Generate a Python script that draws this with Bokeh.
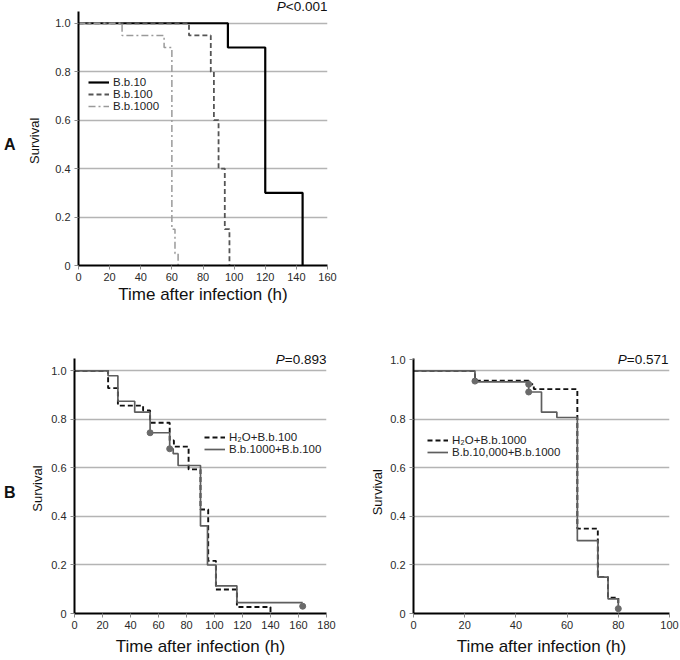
from bokeh.plotting import figure
from bokeh.models import (Range1d, FixedTicker, Label, Legend, LegendItem,
                          LinearAxis, CustomJSTickFormatter)
from bokeh.layouts import column, row
from bokeh.embed import file_html
from bokeh.resources import INLINE

FONT = "Liberation Sans"

# ---------------- data ----------------
y_ticks = [0, 0.2, 0.4, 0.6, 0.8, 1.0]
grid_ticks = [0.2, 0.4, 0.6, 0.8, 1.0]

# Panel A
a_x_ticks = [0, 20, 40, 60, 80, 100, 120, 140, 160]
a_bb10_t = [0, 96, 120, 144]
a_bb10_s = [1.0, 0.9, 0.3, 0.0]
a_bb100_t = [0, 71, 85, 87, 90, 94, 97]
a_bb100_s = [1.0, 0.95, 0.8, 0.6, 0.4, 0.15, 0.0]
a_bb1000_t = [0, 28, 55, 60, 62, 64]
a_bb1000_s = [1.0, 0.95, 0.9, 0.15, 0.05, 0.0]
a_labels = ["B.b.10", "B.b.100", "B.b.1000"]
a_p = ("P", "<0.001")

# Panel B left
b1_x_ticks = [0, 20, 40, 60, 80, 100, 120, 140, 160, 180]
b1_h2o_t = [0, 24, 31, 49, 54, 68, 71, 81.5, 90, 95.5, 101, 116, 140]
b1_h2o_s = [1.0, 0.929, 0.857, 0.837, 0.786, 0.713, 0.688, 0.594, 0.429, 0.217, 0.099, 0.027, 0.0]
b1_bb_t = [0, 24, 31, 43, 54, 68, 70.5, 74, 90, 95, 101, 116, 163]
b1_bb_s = [1.0, 0.98, 0.875, 0.83, 0.745, 0.679, 0.659, 0.61, 0.361, 0.2, 0.114, 0.045, 0.045]
b1_cens_t = [54, 68, 163]
b1_cens_s = [0.745, 0.679, 0.03]
b1_labels = ["H\u2082O+B.b.100", "B.b.1000+B.b.100"]
b1_p = ("P", "=0.893")

# Panel B right
b2_x_ticks = [0, 20, 40, 60, 80, 100]
b2_h2o_t = [0, 24, 45, 47, 64, 72, 76, 80]
b2_h2o_s = [1.0, 0.96, 0.945, 0.925, 0.35, 0.15, 0.065, 0.02]
b2_bb_t = [0, 24, 45, 50, 56, 64, 72, 76, 80]
b2_bb_s = [1.0, 0.955, 0.913, 0.83, 0.808, 0.30, 0.15, 0.06, 0.02]
b2_cens_t = [24, 45, 45, 80]
b2_cens_s = [0.958, 0.945, 0.913, 0.02]
b2_labels = ["H\u2082O+B.b.1000", "B.b.10,000+B.b.1000"]
b2_p = ("P", "=0.571")
b2_y_ticks = [0, 0.2, 0.4, 0.6, 0.8, 1.045]   # the "1.0" label sits above its line

AXIS_TOP = 1.05
P_SIZE = 13.5


def make_fig(width, height, bl, br, bt, bb, xend, yend, xticks, yticks, xlab_standoff):
    p = figure(width=width, height=height, output_backend="svg", toolbar_location=None,
               x_range=Range1d(0, xend), y_range=Range1d(0, yend),
               min_border_left=bl, min_border_right=br, min_border_top=bt,
               min_border_bottom=bb)
    p.outline_line_color = None
    p.background_fill_color = "white"
    p.xgrid.visible = False
    p.ygrid.ticker = FixedTicker(ticks=grid_ticks)
    p.ygrid.grid_line_color = "#b4b4b4"
    p.ygrid.grid_line_width = 1.6
    p.xaxis.ticker = FixedTicker(ticks=xticks)
    p.yaxis.ticker = FixedTicker(ticks=yticks)
    p.yaxis.bounds = (0, AXIS_TOP)
    p.yaxis.formatter = CustomJSTickFormatter(
        code="return tick == 0 ? '0' : (tick > 1 ? '1.0' : tick.toFixed(1));")
    for ax in (p.xaxis[0], p.yaxis[0]):
        ax.axis_line_color = "black"
        ax.axis_line_width = 2
        ax.major_tick_in = 0
        ax.major_tick_out = 4
        ax.major_tick_line_color = "#8a8a8a"
        ax.minor_tick_line_color = None
        ax.major_label_text_font = FONT
        ax.major_label_text_font_size = "11px"
        ax.major_label_text_color = "#2a2a2a"
        ax.axis_label_text_font = FONT
        ax.axis_label_text_font_style = "normal"
        ax.axis_label_text_color = "#111111"
    p.xaxis.major_label_standoff = 3
    p.yaxis.major_label_standoff = 4
    p.xaxis.axis_label = "Time after infection (h)"
    p.xaxis.axis_label_text_font_size = "17px"
    p.xaxis.axis_label_standoff = xlab_standoff
    return p


def text_axis(p, text, ypos, size, style, standoff, vertical):
    ax = LinearAxis(ticker=FixedTicker(ticks=[ypos]),
                    formatter=CustomJSTickFormatter(code="return '%s';" % text),
                    axis_line_color=None, major_tick_line_color=None,
                    minor_tick_line_color=None, major_tick_in=0, major_tick_out=0,
                    major_label_standoff=standoff, major_label_text_font=FONT,
                    major_label_text_font_size=size, major_label_text_font_style=style,
                    major_label_text_color="#111111")
    if vertical:
        ax.major_label_orientation = "vertical"
    p.add_layout(ax, "left")


def add_p(p, xend, yv, ptxt, right_off):
    total = (0.667 + 0.584 + 0.556 * 4 + 0.278) * P_SIZE
    p.add_layout(Label(x=xend, y=yv, text=ptxt[1], text_align="right",
                       text_baseline="middle", x_offset=right_off,
                       text_font=FONT, text_font_size=f"{P_SIZE}px", text_color="#111111"))
    p.add_layout(Label(x=xend, y=yv, text=ptxt[0], text_align="left",
                       text_baseline="middle", x_offset=right_off - total,
                       text_font=FONT, text_font_size=f"{P_SIZE}px",
                       text_font_style="italic", text_color="#111111"))


def add_legend(p, items, x, y):
    lg = Legend(items=items, location=(x, y), label_text_font=FONT,
                label_text_font_size="11.5px", label_text_color="#222222",
                label_height=12, glyph_height=12, glyph_width=21, label_standoff=4,
                spacing=0, padding=0, margin=0, border_line_color=None,
                background_fill_alpha=0)
    p.add_layout(lg)


# ---------------- Panel A ----------------
pA = make_fig(340, 312, 72, 13, 0, 47, 160, 1.094, a_x_ticks, y_ticks, 1)
text_axis(pA, "Survival", 0.515, "13px", "normal", 10, True)
text_axis(pA, "A", 0.5, "16px", "bold", 9, False)
rA1 = pA.step(a_bb10_t, a_bb10_s, mode="after", line_color="black", line_width=2.2)
rA2 = pA.step(a_bb100_t, a_bb100_s, mode="after", line_color="#555555", line_width=1.8,
              line_dash="5 3")
rA3 = pA.step(a_bb1000_t, a_bb1000_s, mode="after", line_color="#9a9a9a", line_width=1.5,
              line_dash="7 3 2 3")
add_legend(pA, [LegendItem(label=a_labels[0], renderers=[rA1]),
                LegendItem(label=a_labels[1], renderers=[rA2]),
                LegendItem(label=a_labels[2], renderers=[rA3])], 10, 153)
add_p(pA, 160, 1.069, a_p, 0)

# ---------------- Panel B left ----------------
pB1 = make_fig(340, 348, 70, 14, 39, 47, 180, 1.08, b1_x_ticks, y_ticks, 5)
text_axis(pB1, "Survival", 0.515, "13px", "normal", 3, True)
text_axis(pB1, "B", 0.5, "16px", "bold", 12, False)
rB1a = pB1.step(b1_h2o_t, b1_h2o_s, mode="after", line_color="#111111", line_width=1.9,
                line_dash="5 3")
rB1b = pB1.step(b1_bb_t, b1_bb_s, mode="after", line_color="#5e5e5e", line_width=1.7)
pB1.scatter(b1_cens_t, b1_cens_s, size=6, color="#6a6a6a")
add_legend(pB1, [LegendItem(label=b1_labels[0], renderers=[rB1a]),
                 LegendItem(label=b1_labels[1], renderers=[rB1b])], 130, 158)
add_p(pB1, 180, 1.046, b1_p, 0)

# ---------------- Panel B right ----------------
pB2 = make_fig(340, 348, 73, 11, 39, 47, 100, 1.08, b2_x_ticks, b2_y_ticks, 5)
text_axis(pB2, "Survival", 0.5, "13px", "normal", 2, True)
rB2a = pB2.step(b2_h2o_t, b2_h2o_s, mode="after", line_color="#111111", line_width=1.9,
                line_dash="5 3")
rB2b = pB2.step(b2_bb_t, b2_bb_s, mode="after", line_color="#5e5e5e", line_width=1.7)
pB2.scatter(b2_cens_t, b2_cens_s, size=6, color="#6a6a6a")
add_legend(pB2, [LegendItem(label=b2_labels[0], renderers=[rB2a]),
                 LegendItem(label=b2_labels[1], renderers=[rB2b])], 14, 155)
add_p(pB2, 100, 1.046, b2_p, -1)

layout = column(row(pA), row(pB1, pB2))
open("out.html", "w").write(file_html(layout, INLINE))
